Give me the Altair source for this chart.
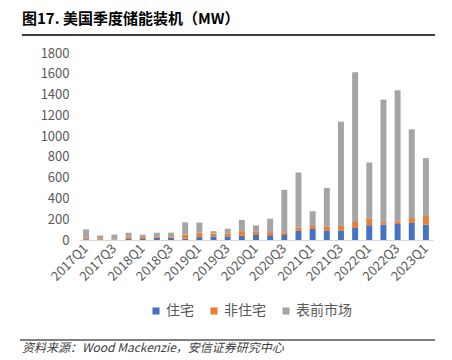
import altair as alt
import pandas as pd

quarters = ["2017Q1", "2017Q2", "2017Q3", "2017Q4",
            "2018Q1", "2018Q2", "2018Q3", "2018Q4",
            "2019Q1", "2019Q2", "2019Q3", "2019Q4",
            "2020Q1", "2020Q2", "2020Q3", "2020Q4",
            "2021Q1", "2021Q2", "2021Q3", "2021Q4",
            "2022Q1", "2022Q2", "2022Q3", "2022Q4",
            "2023Q1"]
tick_labels = ["2017Q1", "2017Q3", "2018Q1", "2018Q3", "2019Q1", "2019Q3",
               "2020Q1", "2020Q3", "2021Q1", "2021Q3", "2022Q1", "2022Q3",
               "2023Q1"]
series = ["住宅", "非住宅", "表前市场"]
colors = ["#4472C4", "#ED7D31", "#A5A5A5"]

residential = [0, 3, 2, 10, 10, 20, 22, 13, 28, 35, 35, 40, 48,
               46, 48, 87, 106, 87, 93, 116, 142, 148, 154, 164, 148]
non_residential = [10, 14, 5, 23, 20, 16, 15, 40, 42, 28, 30, 45, 30,
                   30, 26, 32, 29, 39, 42, 58, 61, 23, 26, 48, 84]
front_of_meter = [92, 27, 45, 37, 22, 34, 33, 117, 98, 22, 43, 108, 62,
                  129, 409, 531, 142, 376, 1004, 1441, 543, 1180, 1261, 853, 556]

y_ticks = [0, 200, 400, 600, 800, 1000, 1200, 1400, 1600, 1800]

title_text = "图17. 美国季度储能装机（MW）"
source_text = "资料来源：Wood Mackenzie，安信证券研究中心"

rows = []
for i, q in enumerate(quarters):
    for k, (name, vals) in enumerate(zip(series, [residential, non_residential, front_of_meter])):
        rows.append({"quarter": q, "series": name, "value": vals[i], "order": k})
df = pd.DataFrame(rows)

FONT = "Noto Sans CJK SC"

bars = alt.Chart(df).mark_bar().encode(
    x=alt.X("quarter:N", sort=quarters,
            scale=alt.Scale(paddingInner=0.58, paddingOuter=0.29),
            axis=alt.Axis(title=None, values=tick_labels, labelAngle=-45,
                          labelAlign="right", labelBaseline="middle",
                          ticks=False, domainColor="#d9d9d9", domainWidth=1,
                          labelPadding=6, labelFontSize=13, labelColor="#595959",
                          labelFont=FONT)),
    y=alt.Y("value:Q", stack="zero",
            scale=alt.Scale(domain=[0, 1800], nice=False),
            axis=alt.Axis(title=None, values=y_ticks, grid=False, domain=False,
                          ticks=False, labelPadding=10, labelFontSize=13, format="d",
                          labelColor="#595959", labelFont=FONT)),
    color=alt.Color("series:N", sort=series,
                    scale=alt.Scale(domain=series, range=colors),
                    legend=alt.Legend(title=None, orient="none", legendX=70, legendY=251,
                                      direction="horizontal", symbolType="square",
                                      symbolSize=50, symbolStrokeWidth=0,
                                      labelFontSize=14, labelColor="#595959",
                                      labelFont=FONT, columnPadding=13, labelOffset=3)),
    order=alt.Order("order:Q", sort="ascending"),
)

title_mark = alt.Chart(pd.DataFrame({"t": [title_text]})).mark_text(
    align="left", baseline="middle", fontSize=15, fontWeight="bold",
    font=FONT, color="#000000"
).encode(text="t:N", x=alt.value(-57), y=alt.value(-34))

title_rule = alt.Chart(pd.DataFrame({"a": [0]})).mark_rule(
    color="#000000", strokeWidth=1.5
).encode(x=alt.value(-57), x2=alt.value(356), y=alt.value(-18))

source_rule = alt.Chart(pd.DataFrame({"a": [0]})).mark_rule(
    color="#000000", strokeWidth=1
).encode(x=alt.value(-59), x2=alt.value(356), y=alt.value(287))

source_mark = alt.Chart(pd.DataFrame({"t": [source_text]})).mark_text(
    align="left", baseline="middle", fontSize=12, fontStyle="italic",
    font=FONT, color="#404040"
).encode(text="t:N", x=alt.value(-57), y=alt.value(295))

chart = alt.layer(bars, title_mark, title_rule, source_rule, source_mark).properties(
    width=354, height=187,
    autosize=alt.AutoSizeParams(type="none"),
    padding={"left": 71, "top": 45, "right": 11, "bottom": 118},
).configure_view(stroke=None)

chart.save("out.html", embed_options={"renderer": "svg", "actions": False})
